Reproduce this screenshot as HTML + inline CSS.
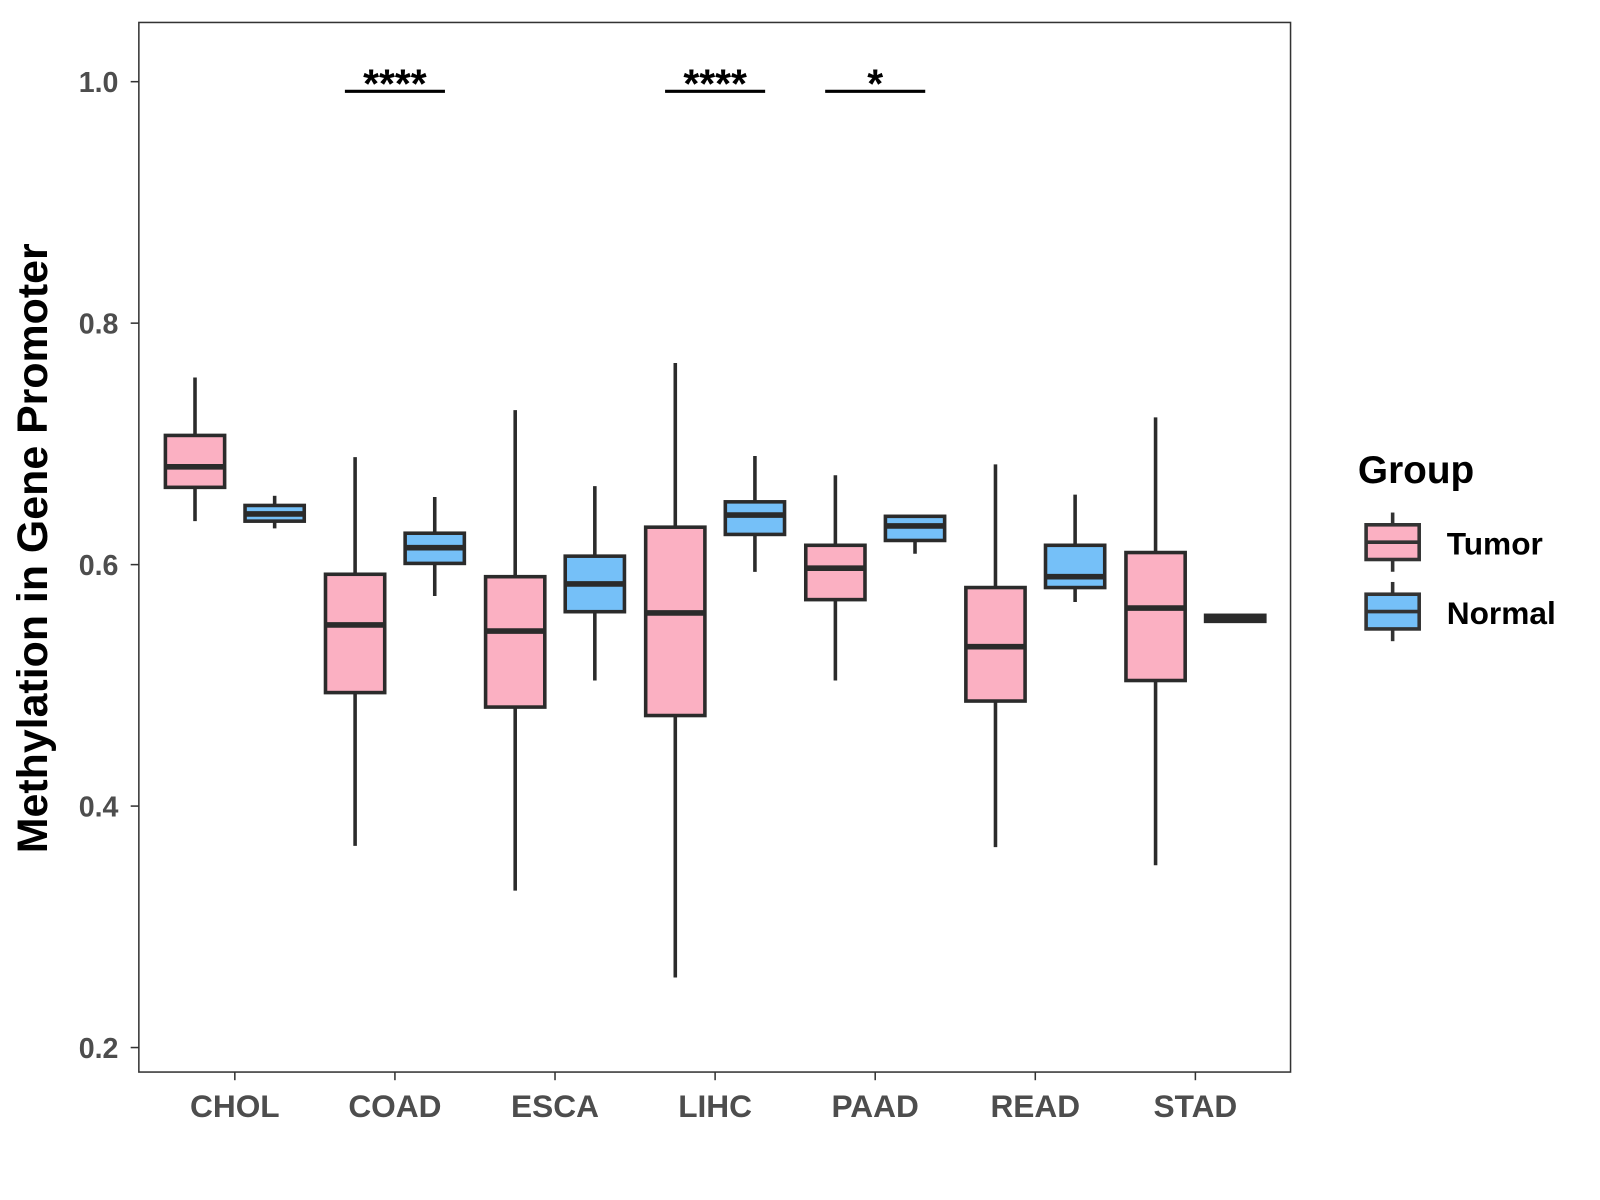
<!DOCTYPE html>
<html><head><meta charset="utf-8"><style>
body{margin:0;background:#fff}
svg{display:block;font-family:"Liberation Sans",Arial,sans-serif;font-weight:bold}
</style></head><body>
<svg id="chart" width="1600" height="1200" viewBox="0 0 1600 1200">
<g transform="scale(1.021)">
<rect x="136" y="22" width="1128" height="1028" fill="#fff" stroke="#333" stroke-width="1.5"/>
<g id="yaxis"></g>
<g id="xaxis"></g>
<g id="boxes"></g>
<g id="sig"></g>
<text x="46" y="537" font-size="42" text-anchor="middle" transform="rotate(-90 46 537)" fill="#000">Methylation in Gene Promoter</text>
<g>
<text x="1330" y="473" font-size="38" fill="#000">Group</text>
<g>
<line x1="1364" y1="502" x2="1364" y2="560" stroke="#333" stroke-width="3.5"/>
<rect x="1338" y="514" width="52" height="34" fill="#FBB0C2" stroke="#333" stroke-width="3.5"/>
<line x1="1338" y1="531" x2="1390" y2="531" stroke="#333" stroke-width="3.5"/>
<text x="1417" y="543" font-size="31" fill="#000">Tumor</text></g>
<g>
<line x1="1364" y1="570" x2="1364" y2="628" stroke="#333" stroke-width="3.5"/>
<rect x="1338" y="582" width="52" height="34" fill="#75C0F8" stroke="#333" stroke-width="3.5"/>
<line x1="1338" y1="599" x2="1390" y2="599" stroke="#333" stroke-width="3.5"/>
<text x="1417" y="611" font-size="31" fill="#000">Normal</text></g>
</g>
</g>
</svg>
<script>
const categories=["CHOL","COAD","ESCA","LIHC","PAAD","READ","STAD"];
// [lower whisker, q1, median, q3, upper whisker]
const tumorStats=[[0.636,0.664,0.681,0.707,0.755],[0.367,0.494,0.550,0.592,0.689],[0.330,0.482,0.545,0.590,0.728],[0.258,0.475,0.560,0.631,0.767],[0.504,0.571,0.597,0.616,0.674],[0.366,0.487,0.532,0.581,0.683],[0.351,0.504,0.564,0.610,0.722]];
const normalStats=[[0.630,0.636,0.642,0.649,0.657],[0.574,0.601,0.614,0.626,0.656],[0.504,0.561,0.584,0.607,0.665],[0.594,0.625,0.641,0.652,0.690],[0.609,0.620,0.632,0.640,0.640],[0.569,0.581,0.590,0.616,0.658],[0.552,0.553,0.556,0.558,0.559]];
const yTicks=[0.2,0.4,0.6,0.8,1.0];
const yTickLabels=["0.2","0.4","0.6","0.8","1.0"];
const sigCategories=["COAD","LIHC","PAAD"];
const sigLabels=["****","****","*"];
const sigLevel=0.992;

const NS="http://www.w3.org/2000/svg";
function y(v){return 80+(1-v)*1182.5;}
function x(i){return 230+i*156.8;}
function mk(tag,attrs,parent){const e=document.createElementNS(NS,tag);for(const k in attrs)e.setAttribute(k,attrs[k]);parent.appendChild(e);return e;}
const yg=document.getElementById('yaxis'),xg=document.getElementById('xaxis'),bg=document.getElementById('boxes'),sg=document.getElementById('sig');
yTicks.forEach((t,i)=>{
 const l=mk('line',{x1:128,x2:136,y1:y(t),y2:y(t),stroke:'#333','stroke-width':1.5},yg);
 
 
 const tx=mk('text',{x:116,y:y(t)+10,'font-size':28,'text-anchor':'end',fill:'#4d4d4d'},yg);
 tx.textContent=yTickLabels[i];
 
 
});
categories.forEach((c,i)=>{
 const l=mk('line',{x1:x(i),x2:x(i),y1:1050,y2:1058,stroke:'#333','stroke-width':1.5},xg);
 
 
 const tx=mk('text',{x:x(i),y:1094,'font-size':31,'text-anchor':'middle',fill:'#4d4d4d'},xg);
 tx.textContent=c;
 
 
});
function box(s,cx,fill,name){
 const g=mk('g',{},bg);
 
 
 mk('line',{x1:cx,x2:cx,y1:y(s[4]),y2:y(s[0]),stroke:'#2b2b2b','stroke-width':3.5},g);
 mk('rect',{x:cx-29,y:y(s[3]),width:58,height:Math.max(y(s[1])-y(s[3]),1),fill:fill,stroke:'#2b2b2b','stroke-width':3.5},g);
 mk('line',{x1:cx-29,x2:cx+29,y1:y(s[2]),y2:y(s[2]),stroke:'#2b2b2b','stroke-width':5.5},g);
}
categories.forEach((c,i)=>{
 box(tumorStats[i],x(i)-39,'#FBB0C2','box-tumor-'+c.toLowerCase());
 box(normalStats[i],x(i)+39,'#75C0F8','box-normal-'+c.toLowerCase());
});
sigCategories.forEach((c,k)=>{
 const i=categories.indexOf(c);
 const l=mk('line',{x1:x(i)-49,x2:x(i)+49,y1:y(sigLevel),y2:y(sigLevel),stroke:'#000','stroke-width':3},sg);
 
 
 const t=mk('text',{x:x(i),y:y(sigLevel)+6,'font-size':40,'text-anchor':'middle',fill:'#000'},sg);
 t.textContent=sigLabels[k];
 
 
});
</script>
</body></html>
